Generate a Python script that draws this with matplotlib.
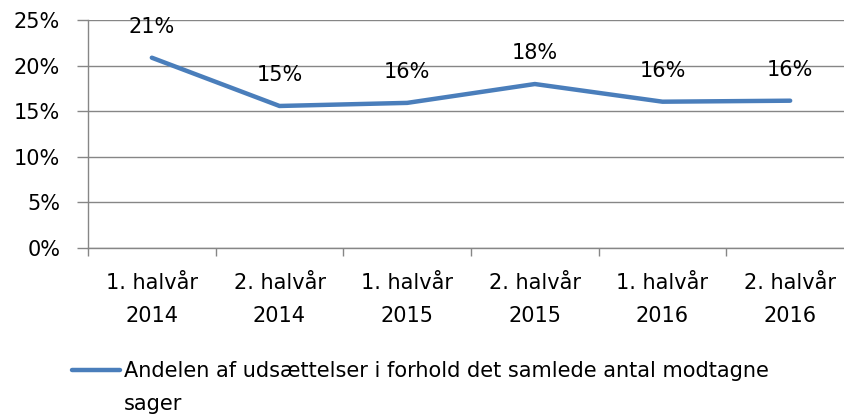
import matplotlib.pyplot as plt
from matplotlib.ticker import FuncFormatter

plt.rcParams['font.family'] = ['DejaVu Sans']

# data
perioder = ['1. halvår\n2014', '2. halvår\n2014', '1. halvår\n2015',
            '2. halvår\n2015', '1. halvår\n2016', '2. halvår\n2016']
andel = [0.2086, 0.1556, 0.159, 0.1797, 0.1603, 0.1614]
etiketter = ['21%', '15%', '16%', '18%', '16%', '16%']
serie_navn = ['Andelen af udsættelser i forhold det samlede antal modtagne', 'sager']

blaa = '#4A7EBB'
graa = '#868686'
fs = 15

fig = plt.figure(figsize=(8.44, 4.16), dpi=100)
ax = fig.add_axes([88 / 844, 1 - 247.7 / 416, 766 / 844, 227.7 / 416])

x = list(range(len(andel)))
line, = ax.plot(x, andel, color=blaa, linewidth=3.2, solid_capstyle='round',
                solid_joinstyle='round', label=serie_navn[0])

# dataetiketter over punkterne
for xi, yi, t in zip(x, andel, etiketter):
    ax.annotate(t, (xi, yi), xytext=(0, 17.8), textcoords='offset points',
                ha='center', va='baseline', fontsize=fs, color='black')

ax.set_xlim(-0.5, len(andel) - 0.5)
ax.set_ylim(0, 0.25)
ax.set_yticks([0, 0.05, 0.10, 0.15, 0.20, 0.25])
ax.yaxis.set_major_formatter(FuncFormatter(lambda v, p: f'{v * 100:.0f}%'))
ax.set_xticks([i - 0.5 for i in range(len(andel) + 1)], minor=False)
ax.set_xticklabels([])
ax.set_xticks(x, minor=True)
ax.set_xticklabels(perioder, minor=True)
ax.tick_params(axis='x', which='major', direction='out', length=6, color=graa, width=1)
ax.tick_params(axis='x', which='minor', length=0, pad=18, labelsize=fs)
ax.tick_params(axis='y', direction='out', length=8, color=graa, width=1, labelsize=fs, pad=12)
for lbl in ax.get_xticklabels(minor=True):
    lbl.set_linespacing(1.8)

ax.grid(axis='y', color=graa, linewidth=1)
ax.set_axisbelow(True)
for s in ['top', 'right']:
    ax.spines[s].set_visible(False)
for s in ['left', 'bottom']:
    ax.spines[s].set_color(graa)
    ax.spines[s].set_linewidth(1)

# forklaring: streg ud for første linje, anden linje som tekst nedenunder
leg = fig.legend(handles=[line], loc='upper left', bbox_to_anchor=(72 / 844, 1 - 361 / 416),
                 frameon=False, fontsize=fs, handlelength=2.3, handletextpad=0.2,
                 borderaxespad=0, borderpad=0)
fig.text(124 / 844, 1 - 410 / 416, serie_navn[1], fontsize=fs, va='baseline', ha='left')

fig.savefig('out.png', dpi=100)
